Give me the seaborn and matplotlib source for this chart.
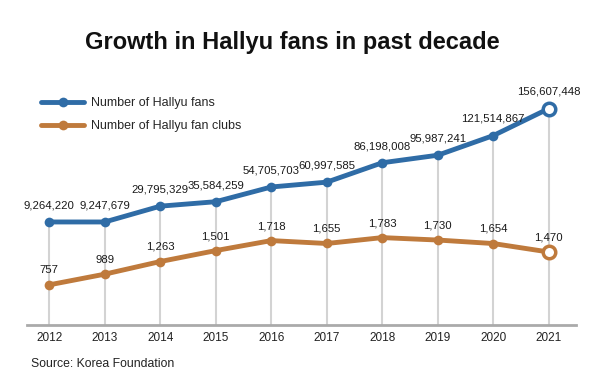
import matplotlib
matplotlib.use("Agg")
import matplotlib.pyplot as plt
import seaborn as sns
from matplotlib.lines import Line2D

years = [2012, 2013, 2014, 2015, 2016, 2017, 2018, 2019, 2020, 2021]
fans = [9264220, 9247679, 29795329, 35584259, 54705703, 60997585,
        86198008, 95987241, 121514867, 156607448]
clubs = [757, 989, 1263, 1501, 1718, 1655, 1783, 1730, 1654, 1470]

fans_label = "Number of Hallyu fans"
clubs_label = "Number of Hallyu fan clubs"
title = "Growth in Hallyu fans in past decade"
source = "Source: Korea Foundation"

blue = "#2f6ca6"
orange = "#bf7a3c"

sns.set_theme(style="white")
plt.rcParams['font.family'] = ['Liberation Sans', 'DejaVu Sans']

W, H = 600, 387
fig = plt.figure(figsize=(6, 3.87), dpi=100)
# 坐标轴区域按像素放置
ax1 = fig.add_axes([27 / W, 1 - 325 / H, (576 - 27) / W, (325 - 60) / H])
ax2 = ax1.twinx()

ax1.set_xlim(2011.6, 2021.49)
ax1.set_ylim(-124.6e6, 219.7e6)
ax2.set_ylim(-115, 5640)

# 竖向灰线：从底部到蓝点
ax1.vlines(years, -124.6e6, fans, color="#d3d3d3", lw=1.5, zorder=1)

sns.lineplot(x=years[:-1], y=fans[:-1], ax=ax1, color=blue, lw=3.5,
             marker="o", markersize=7, markeredgewidth=0, zorder=3)
sns.lineplot(x=years[-2:], y=fans[-2:], ax=ax1, color=blue, lw=3.5, zorder=3)
ax1.plot(years[-1], fans[-1], "o", ms=9, mfc="white", mec=blue, mew=2.5, zorder=4)

sns.lineplot(x=years[:-1], y=clubs[:-1], ax=ax2, color=orange, lw=3.5,
             marker="o", markersize=7, markeredgewidth=0, zorder=3)
sns.lineplot(x=years[-2:], y=clubs[-2:], ax=ax2, color=orange, lw=3.5, zorder=3)
ax2.plot(years[-1], clubs[-1], "o", ms=9, mfc="white", mec=orange, mew=2.5, zorder=4)

for x, v in zip(years, fans):
    ax1.annotate(f"{v:,}", (x, v), xytext=(0, 12), textcoords="offset points",
                 ha="center", va="center", fontsize=8.2, color="#1a1a1a")
for x, v in zip(years, clubs):
    ax2.annotate(f"{v:,}", (x, v), xytext=(0, 10.5), textcoords="offset points",
                 ha="center", va="center", fontsize=8.2, color="#1a1a1a")

for ax in (ax1, ax2):
    ax.set_yticks([])
    ax.set_ylabel("")
    for s in ["top", "right", "left"]:
        ax.spines[s].set_visible(False)
ax2.spines["bottom"].set_visible(False)
ax1.spines["bottom"].set_color("#aaaaaa")
ax1.spines["bottom"].set_linewidth(2)

ax1.set_xticks(years)
ax1.set_xticklabels([str(y) for y in years], fontsize=8.5, color="#222222")
ax1.tick_params(axis="x", length=0, pad=5)

handles = [
    Line2D([0], [0], color=blue, lw=3.5, marker="o", ms=7, mew=0),
    Line2D([0], [0], color=orange, lw=3.5, marker="o", ms=7, mew=0),
]
fig.legend(handles, [fans_label, clubs_label], loc="upper left",
           bbox_to_anchor=(30 / W, 1 - 86 / H), frameon=False,
           fontsize=9, handlelength=3.4, labelspacing=0.85, handletextpad=0.6)

fig.text(292 / W, 1 - 43 / H, title, ha="center", va="center",
         fontsize=17, fontweight="bold", color="#111111")
fig.text(31 / W, 1 - 364 / H, source, ha="left", va="center",
         fontsize=8.8, color="#222222")

fig.savefig("out.png", dpi=100, facecolor="white")
